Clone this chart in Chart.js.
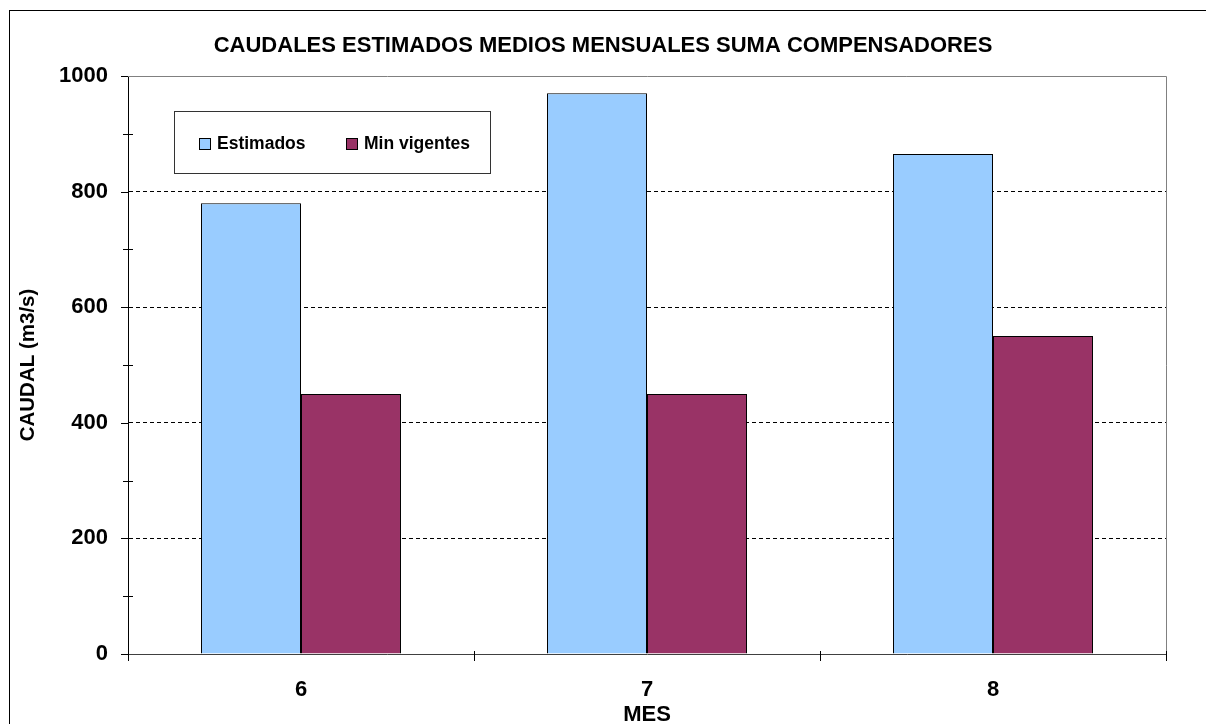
<!DOCTYPE html>
<html>
<head>
<meta charset="utf-8">
<script src="https://cdn.jsdelivr.net/npm/chart.js@4.4.1/dist/chart.umd.min.js"></script>
<style>
  html, body { margin: 0; padding: 0; background: #fff; }
  #wrap { width: 1206px; height: 724px; position: relative; }
</style>
</head>
<body>
<div id="wrap"><canvas id="chart_caudal"></canvas></div>
<script>
const meses = ['6', '7', '8'];
const estimados = [780, 970, 865];
const minVigentes = [450, 450, 550];
const yTicks = [0, 200, 400, 600, 800, 1000];

const FONT = "'Liberation Sans', Arial, sans-serif";

// frame, outer border and crossing tick marks like the original sheet
const framePlugin = {
    id: 'frame',
    beforeDraw(chart) {
        const ctx = chart.ctx;
        ctx.save();
        ctx.fillStyle = '#fff';
        ctx.fillRect(0, 0, chart.width, chart.height);
        ctx.strokeStyle = '#000';
        ctx.lineWidth = 1;
        ctx.strokeRect(9.5, 10.5, chart.width + 20, chart.height + 20);
        ctx.restore();
    },
    afterDraw(chart) {
        const ctx = chart.ctx;
        const a = chart.chartArea;
        const y = chart.scales.y;
        const x = chart.scales.x;
        ctx.save();
        ctx.lineWidth = 1;
        // grey frame top / right
        ctx.strokeStyle = '#808080';
        ctx.beginPath();
        ctx.moveTo(a.left, Math.round(a.top) + 0.5);
        ctx.lineTo(Math.round(a.right) + 0.5, Math.round(a.top) + 0.5);
        ctx.lineTo(Math.round(a.right) + 0.5, a.bottom);
        ctx.stroke();
        // y ticks
        ctx.strokeStyle = '#000';
        ctx.beginPath();
        for (let v = 0; v <= 1000; v += 100) {
            const py = Math.round(y.getPixelForValue(v)) + 0.5;
            if (v % 200 === 0) {
                ctx.moveTo(a.left - 7, py);
                ctx.lineTo(a.left, py);
            } else {
                ctx.moveTo(a.left - 5, py);
                ctx.lineTo(a.left + 5, py);
            }
        }
        // x ticks at category boundaries
        const step = (x.right - x.left) / meses.length;
        for (let k = 0; k <= meses.length; k++) {
            const px = Math.round(x.left + k * step) + 0.5;
            ctx.moveTo(px, k === 0 ? a.bottom : a.bottom - 3);
            ctx.lineTo(px, a.bottom + 7);
        }
        ctx.stroke();
        ctx.restore();
    }
};

// legend box inside the plot area
const legendBox = {
    id: 'legendBox',
    afterDraw(chart) {
        const ctx = chart.ctx;
        const sets = chart.data.datasets;
        const box = { x: 174.5, y: 111.5, w: 316, h: 62 };
        const items = [{ sq: 199, tx: 217 }, { sq: 346, tx: 364 }];
        ctx.save();
        ctx.fillStyle = '#fff';
        ctx.fillRect(box.x, box.y, box.w, box.h);
        ctx.strokeStyle = '#333';
        ctx.lineWidth = 1;
        ctx.strokeRect(box.x, box.y, box.w, box.h);
        ctx.font = 'bold 17.5px ' + FONT;
        ctx.textBaseline = 'middle';
        ctx.textAlign = 'left';
        sets.forEach((ds, i) => {
            ctx.fillStyle = ds.backgroundColor;
            ctx.fillRect(items[i].sq + 0.5, 138.5, 11, 11);
            ctx.strokeStyle = '#000';
            ctx.strokeRect(items[i].sq + 0.5, 138.5, 11, 11);
            ctx.fillStyle = '#000';
            ctx.fillText(ds.label, items[i].tx, 144);
        });
        ctx.restore();
    }
};

const chartConfig = {
    type: 'bar',
    data: {
        labels: meses,
        datasets: [
            {
                label: 'Estimados',
                data: estimados,
                backgroundColor: '#99CCFF',
                borderColor: '#000',
                borderWidth: 1
            },
            {
                label: 'Min vigentes',
                data: minVigentes,
                backgroundColor: '#993366',
                borderColor: '#000',
                borderWidth: 1
            }
        ]
    },
    options: {
        responsive: false,
        animation: false,
        devicePixelRatio: 1,
        layout: { padding: { left: 0, right: 0, top: 10, bottom: 0 } },
        datasets: { bar: { categoryPercentage: 0.578, barPercentage: 1 } },
        plugins: {
            legend: { display: false },
            tooltip: { enabled: false },
            title: {
                display: true,
                text: 'CAUDALES ESTIMADOS MEDIOS MENSUALES SUMA COMPENSADORES',
                color: '#000',
                font: { family: FONT, size: 22, weight: 'bold' },
                padding: { top: 22.3, bottom: 17.3 }
            }
        },
        scales: {
            x: {
                grid: { display: false, drawTicks: false },
                border: { display: true, color: '#404040', width: 1 },
                ticks: {
                    color: '#000',
                    padding: 23,
                    font: { family: FONT, size: 22, weight: 'bold' }
                },
                title: {
                    display: true,
                    text: 'MES',
                    color: '#000',
                    font: { family: FONT, size: 22, weight: 'bold', lineHeight: 0.8 },
                    padding: { top: 0, bottom: 0.5 }
                },
                afterFit(s) { s.height = 70; }
            },
            y: {
                min: 0,
                max: 1000,
                afterBuildTicks(s) { s.ticks = yTicks.map(v => ({ value: v })); },
                grid: {
                    drawTicks: false,
                    color: (c) => (c.tick && (c.tick.value === 0 || c.tick.value === 1000)) ? 'rgba(0,0,0,0)' : '#000'
                },
                border: { display: true, color: '#000', width: 1, dash: [4, 3] },
                ticks: {
                    color: '#000',
                    padding: 20,
                    font: { family: FONT, size: 22, weight: 'bold' },
                    callback: (v) => String(v)
                },
                title: {
                    display: true,
                    text: 'CAUDAL (m3/s)',
                    color: '#000',
                    font: { family: FONT, size: 20.5, weight: 'bold' },
                    padding: { top: 15.7, bottom: 0 }
                },
                afterFit(s) { s.width = 128; }
            },
            // empty right-hand strip so the plot ends where the original does
            yRight: {
                position: 'right',
                min: 0,
                max: 1000,
                grid: { display: false, drawTicks: false },
                border: { display: false },
                ticks: { display: false },
                afterFit(s) { s.width = 40; }
            }
        }
    },
    plugins: [framePlugin, legendBox]
};

const ctx = document.getElementById('chart_caudal');
ctx.width = 1206;
ctx.height = 724;
new Chart(ctx, chartConfig);
</script>
</body>
</html>
